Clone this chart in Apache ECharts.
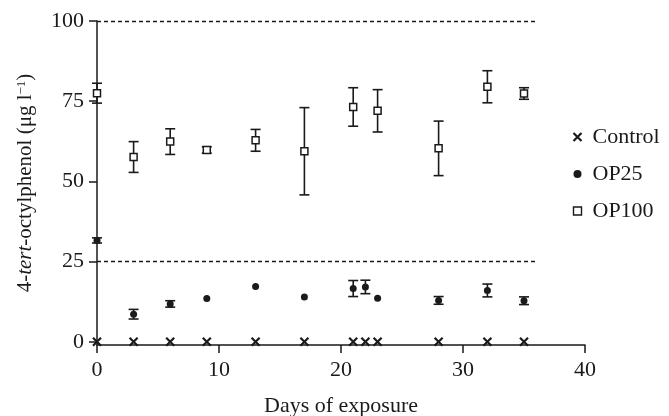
<!DOCTYPE html>
<html>
<head>
<meta charset="utf-8">
<script src="https://cdn.jsdelivr.net/npm/echarts@6/dist/echarts.min.js"></script>
<style>
  html, body { margin: 0; padding: 0; background: #fff; }
  #chart { width: 669px; height: 416px; }
</style>
</head>
<body>
<div id="chart"></div>
<script>
// days sampled
const days = [0, 3, 6, 9, 13, 17, 21, 22, 23, 28, 32, 35]
const control = [0, 0, 0, 0, 0, 0, 0, 0, 0, 0, 0, 0]
const op25Mean = [31.6, 8.6, 11.8, 13.5, 17.2, 14.0, 16.6, 17.1, 13.6, 12.9, 16.0, 12.8]
const op25Err = [0.8, 1.5, 1.0, 0, 0, 0, 2.5, 2.1, 0, 1.2, 2.0, 1.2]
const op100Days = [0, 3, 6, 9, 13, 17, 21, 23, 28, 32, 35]
const op100Mean = [77.5, 57.6, 62.4, 59.8, 62.8, 59.4, 73.2, 72.0, 60.3, 79.5, 77.4]
const op100Err = [3.1, 4.8, 4.0, 1.0, 3.4, 13.6, 6.0, 6.6, 8.5, 5.0, 1.8]
const yTicks = [0, 25, 50, 75, 100]
const refLevels = [100, 25]

const ink = '#1a1a1a'
const font = '"Liberation Serif", "Times New Roman", serif'
const crossPath = 'path://M0,0L10,10M10,0L0,10'

const chart = echarts.init(document.getElementById('chart'))

function errorBars(xs, means, errs) {
  return {
    type: 'custom',
    silent: true,
    z: 1,
    clip: false,
    data: xs.map((d, i) => [d, means[i], errs[i]]),
    encode: { x: 0, y: 1 },
    renderItem(params, api) {
      const x = api.value(0)
      const m = api.value(1)
      const e = api.value(2)
      if (!e) return null
      const top = api.coord([x, m + e])
      const bot = api.coord([x, m - e])
      const hw = 5
      const style = { stroke: ink, lineWidth: 1.6 }
      return {
        type: 'group',
        children: [
          { type: 'line', shape: { x1: top[0], y1: top[1], x2: bot[0], y2: bot[1] }, style },
          { type: 'line', shape: { x1: top[0] - hw, y1: top[1], x2: top[0] + hw, y2: top[1] }, style },
          { type: 'line', shape: { x1: bot[0] - hw, y1: bot[1], x2: bot[0] + hw, y2: bot[1] }, style }
        ]
      }
    }
  }
}

const option = {
  animation: false,
  textStyle: { fontFamily: font },
  grid: { left: 97, right: 84, top: 21, bottom: 71, outerBoundsMode: 'none', containLabel: false },
  legend: {
    orient: 'vertical',
    left: 566,
    top: 121,
    itemGap: 15,
    itemWidth: 8,
    itemHeight: 8,
    textStyle: { fontFamily: font, fontSize: 22, color: ink, padding: [0, 0, 0, 6], lineHeight: 21 },
    data: [
      { name: 'Control', icon: crossPath, itemStyle: { color: 'none', borderColor: ink, borderWidth: 2.2 } },
      { name: 'OP25', icon: 'circle', itemStyle: { color: ink, borderWidth: 0 } },
      { name: 'OP100', icon: 'rect', itemStyle: { color: '#fff', borderColor: ink, borderWidth: 1.4 } }
    ]
  },
  xAxis: {
    type: 'value',
    min: 0,
    max: 40,
    interval: 10,
    name: 'Days of exposure',
    nameLocation: 'middle',
    nameGap: 50,
    nameTextStyle: { fontFamily: font, fontSize: 22, color: ink },
    axisLine: { onZero: false, lineStyle: { color: ink, width: 1.5 } },
    axisTick: { length: 8, lineStyle: { color: ink, width: 1.5 } },
    axisLabel: { fontFamily: font, fontSize: 22, color: ink, margin: 14 },
    splitLine: { show: false }
  },
  yAxis: {
    type: 'value',
    min: -1,
    max: 100,
    name: '4-{i|tert}-octylphenol (μg l{s|−1})',
    nameLocation: 'middle',
    nameRotate: 90,
    nameGap: 61,
    nameTextStyle: {
      fontFamily: font, fontSize: 21, color: ink,
      rich: {
        i: { fontFamily: font, fontSize: 21, fontStyle: 'italic', color: ink },
        s: { fontFamily: font, fontSize: 13, color: ink, verticalAlign: 'top', padding: [0, 0, 8, 0] }
      }
    },
    axisLine: { lineStyle: { color: ink, width: 1.5 } },
    axisTick: { length: 8, customValues: yTicks, lineStyle: { color: ink, width: 1.5 } },
    axisLabel: { fontFamily: font, fontSize: 22, color: ink, margin: 13, customValues: yTicks },
    splitLine: { show: false }
  },
  series: [
    errorBars(days, op25Mean, op25Err),
    errorBars(op100Days, op100Mean, op100Err),
    {
      name: 'Control',
      type: 'scatter',
      z: 3,
      symbol: crossPath,
      symbolSize: 8,
      itemStyle: { color: 'none', borderColor: ink, borderWidth: 2.2, opacity: 1 },
      data: days.map((d, i) => [d, control[i]]),
      markLine: {
        silent: true,
        symbol: 'none',
        label: { show: false },
        lineStyle: { color: ink, type: [4, 3], width: 1.3 },
        data: refLevels.map(v => [{ coord: [0, v] }, { coord: [36, v] }])
      }
    },
    {
      name: 'OP25',
      type: 'scatter',
      z: 3,
      symbol: 'circle',
      symbolSize: 7,
      itemStyle: { color: ink, opacity: 1 },
      data: days.map((d, i) => [d, op25Mean[i]])
    },
    {
      name: 'OP100',
      type: 'scatter',
      z: 3,
      symbol: 'rect',
      symbolSize: 7,
      itemStyle: { color: '#fff', borderColor: ink, borderWidth: 1.5, opacity: 1 },
      data: op100Days.map((d, i) => [d, op100Mean[i]])
    }
  ]
}

chart.setOption(option)
</script>
</body>
</html>
